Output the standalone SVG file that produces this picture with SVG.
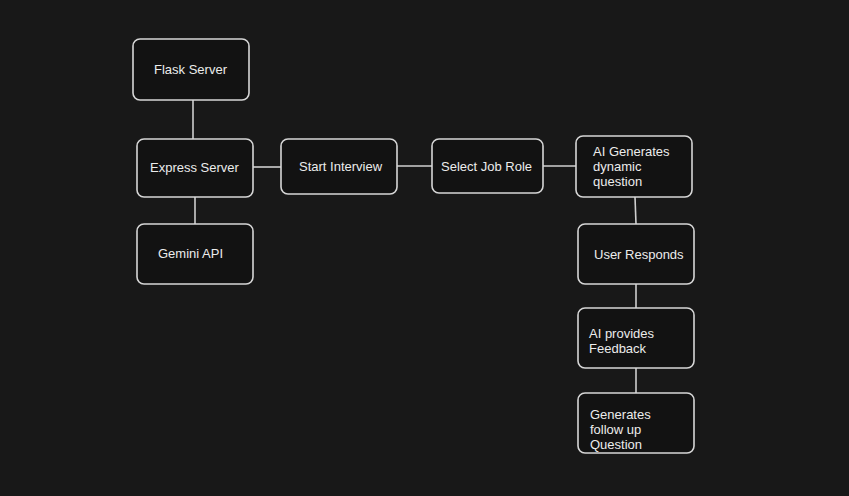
<svg xmlns="http://www.w3.org/2000/svg" width="849" height="496" viewBox="0 0 849 496">
<style>
.bg{fill:#181818}
.box{fill:#121212;stroke:#d6d6d6;stroke-width:1.6}
.t{font-family:"Liberation Sans",Arial,sans-serif;font-size:13px;fill:#ececec}
.c line{stroke:#cfcfcf;stroke-width:1.6}
</style>
<rect class="bg" x="0" y="0" width="849" height="496"/>
<g id="connectors" class="c">
<line x1="193" y1="100" x2="193" y2="139"/>
<line x1="195" y1="197" x2="195" y2="224"/>
<line x1="253" y1="167" x2="281" y2="167"/>
<line x1="397" y1="166" x2="432" y2="166"/>
<line x1="543" y1="166" x2="576" y2="166"/>
<line x1="635" y1="197" x2="636" y2="224"/>
<line x1="636" y1="284" x2="636" y2="308"/>
<line x1="636" y1="368" x2="636" y2="393"/>
</g>
<g id="flask"><rect class="box" x="133" y="39" width="116" height="61" rx="7"/><text class="t" x="154" y="74">Flask Server</text></g>
<g id="express"><rect class="box" x="137" y="139" width="116" height="58" rx="7"/><text class="t" x="150" y="172">Express Server</text></g>
<g id="gemini"><rect class="box" x="137" y="224" width="116" height="60" rx="7"/><text class="t" x="158" y="258">Gemini API</text></g>
<g id="start"><rect class="box" x="281" y="139" width="116" height="55" rx="7"/><text class="t" x="299" y="171">Start Interview</text></g>
<g id="select"><rect class="box" x="432" y="139" width="111" height="54" rx="7"/><text class="t" x="441" y="171">Select Job Role</text></g>
<g id="aigen"><rect class="box" x="576" y="136" width="116" height="61" rx="7"/><text class="t" x="593" y="156">AI Generates</text><text class="t" x="593" y="171">dynamic</text><text class="t" x="593" y="186">question</text></g>
<g id="user"><rect class="box" x="578" y="224" width="116" height="60" rx="7"/><text class="t" x="594" y="259">User Responds</text></g>
<g id="feedback"><rect class="box" x="578" y="308" width="116" height="60" rx="7"/><text class="t" x="589" y="338">AI provides</text><text class="t" x="589" y="353">Feedback</text></g>
<g id="followup"><rect class="box" x="578" y="393" width="116" height="60" rx="7"/><text class="t" x="590" y="419">Generates</text><text class="t" x="590" y="434">follow up</text><text class="t" x="590" y="449">Question</text></g>
</svg>
